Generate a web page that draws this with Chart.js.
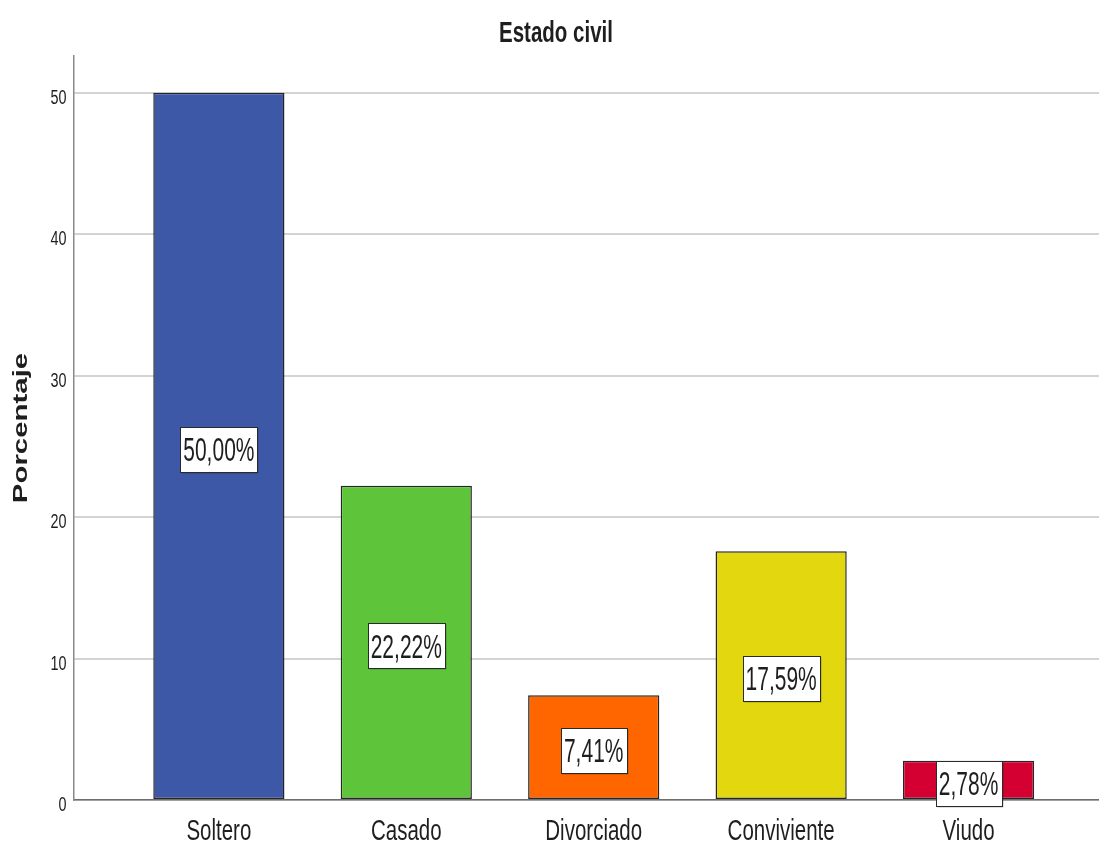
<!DOCTYPE html>
<html>
<head>
<meta charset="utf-8">
<title>Estado civil</title>
<script src="https://cdn.jsdelivr.net/npm/chart.js@4/dist/chart.umd.min.js"></script>
<style>
  html, body { margin: 0; padding: 0; background: #ffffff; }
  #wrap { width: 1099px; height: 844px; }
</style>
</head>
<body>
<div id="wrap"><canvas id="chart" width="1099" height="844"></canvas></div>
<script>
// Marital status distribution (percent of respondents)
const chartTitle = 'Estado civil';
const yAxisTitle = 'Porcentaje';
const categories = ['Soltero', 'Casado', 'Divorciado', 'Conviviente', 'Viudo'];
const percentages = [50.00, 22.22, 7.41, 17.59, 2.78];
const barColors = ['#3e58a8', '#5ec43a', '#ff6600', '#e3d710', '#d50032'];
const yTickValues = [0, 10, 20, 30, 40, 50];

const TEXT = '#1e1e1e';
const SANS = '"Liberation Sans", Arial, sans-serif';

// Text here is drawn taller than wide, so every string goes through a vertical stretch.
function stretchedText(ctx, str, x, baseline, size, weight, stretch, align) {
  ctx.save();
  ctx.translate(x, baseline);
  ctx.scale(1, stretch);
  ctx.font = weight + ' ' + size + 'px ' + SANS;
  ctx.textAlign = align;
  ctx.textBaseline = 'alphabetic';
  ctx.fillStyle = TEXT;
  ctx.fillText(str, 0, 0);
  ctx.restore();
}

function fmtPct(v) {
  return v.toFixed(2).replace('.', ',') + '%';
}

const textPlugin = {
  id: 'stretchedLabels',
  afterDatasetsDraw(chart) {
    const ctx = chart.ctx;
    const xs = chart.scales.x;
    const ys = chart.scales.y;

    // Title
    stretchedText(ctx, chartTitle, 556, 42, 20.5, 'bold', 1.4, 'center');

    // Y tick labels
    ys.ticks.forEach(t => {
      const py = ys.getPixelForValue(t.value);
      stretchedText(ctx, String(t.value), 66.5, py + 11, 14.4, 'normal', 1.45, 'right');
    });

    // Category labels
    categories.forEach((name, i) => {
      const px = xs.getPixelForValue(i);
      stretchedText(ctx, name, px, 840, 20.5, 'normal', 1.47, 'center');
    });

    // Y axis title, rotated
    ctx.save();
    ctx.translate(26.5, 428);
    ctx.rotate(-Math.PI / 2);
    ctx.scale(1.47, 1);
    ctx.font = 'bold 20px ' + SANS;
    ctx.textAlign = 'center';
    ctx.textBaseline = 'alphabetic';
    ctx.fillStyle = TEXT;
    ctx.fillText(yAxisTitle, 0, 0);
    ctx.restore();

    // Value boxes centred in each bar
    const meta = chart.getDatasetMeta(0);
    meta.data.forEach((el, i) => {
      const label = fmtPct(percentages[i]);
      const size = 21, stretch = 1.55;
      ctx.save();
      ctx.font = 'normal ' + size + 'px ' + SANS;
      const w = ctx.measureText(label).width;
      ctx.restore();
      const cx = el.x;
      const cy = (el.y + el.base) / 2 + 3.5;
      const bw = Math.round(w + 6), bh = 45;
      const bx = Math.round(cx - bw / 2) + 0.5, by = Math.round(cy - bh / 2) + 0.5;
      ctx.save();
      ctx.fillStyle = 'rgba(0,0,0,0.25)';
      ctx.fillRect(bx + 1, by + 1, bw, bh);
      ctx.fillStyle = '#ffffff';
      ctx.fillRect(bx, by, bw, bh);
      ctx.strokeStyle = '#2a2a2a';
      ctx.lineWidth = 1;
      ctx.strokeRect(bx, by, bw, bh);
      ctx.restore();
      const capH = 0.716 * size * stretch;
      stretchedText(ctx, label, cx, cy + capH / 2, size, 'normal', stretch, 'center');
    });
  }
};

const points = percentages.map((v, i) => ({ x: i, y: v }));

new Chart(document.getElementById('chart'), {
  type: 'bar',
  data: {
    datasets: [{
      data: points,
      backgroundColor: barColors,
      borderColor: '#262626',
      borderWidth: 1.5,
      borderSkipped: false,
      barPercentage: 0.70,
      categoryPercentage: 1.0
    }]
  },
  options: {
    responsive: false,
    animation: false,
    devicePixelRatio: 1,
    layout: { padding: { left: 74, top: 56, right: 0, bottom: 44 } },
    plugins: {
      legend: { display: false },
      title: { display: false },
      tooltip: { enabled: false }
    },
    scales: {
      x: {
        type: 'linear',
        offset: false,
        min: -0.773,
        max: 4.696,
        grid: { display: false, drawTicks: false },
        border: { display: true, color: '#6e6e6e', width: 1.5 },
        ticks: { display: false, padding: 0 },
        afterBuildTicks(scale) { scale.ticks = categories.map((c, i) => ({ value: i })); },
        afterFit(scale) { scale.height = 0; }
      },
      y: {
        min: 0,
        max: 52.6,
        grid: { color: '#d3d3d3', lineWidth: 2, drawTicks: false },
        border: { display: true, color: '#8a8a8a', width: 1.5 },
        ticks: { display: false, padding: 0 },
        afterBuildTicks(scale) { scale.ticks = yTickValues.map(v => ({ value: v })); },
        afterFit(scale) { scale.width = 0; }
      }
    }
  },
  plugins: [textPlugin]
});
</script>
</body>
</html>
